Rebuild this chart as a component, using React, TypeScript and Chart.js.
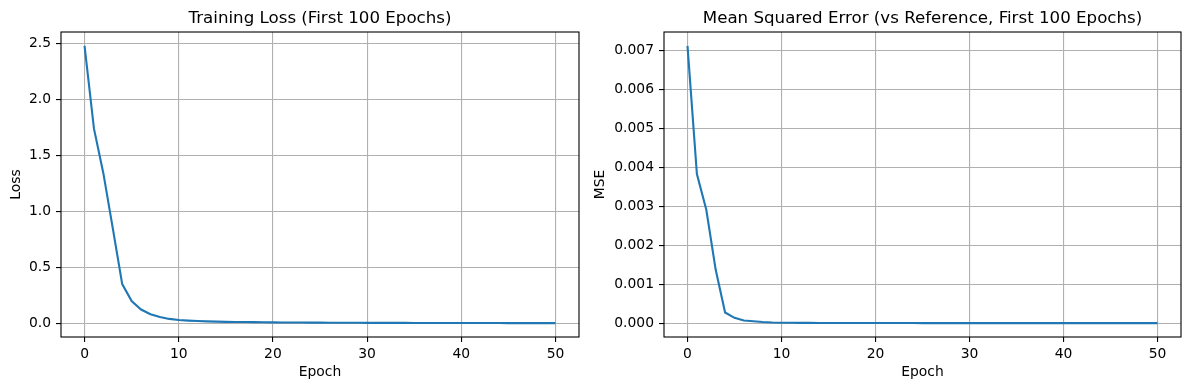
import React, { useEffect, useRef } from "react";
import { Chart, registerables } from "chart.js";

Chart.register(...registerables);

const epochs: number[] = Array.from({ length: 51 }, (_, i) => i);

const lossValues: number[] = [
  2.479, 1.74, 1.34, 0.85, 0.352, 0.2, 0.125, 0.083, 0.058, 0.041, 0.031,
  0.026, 0.022, 0.019, 0.017, 0.015, 0.014, 0.013, 0.012, 0.011, 0.010,
  0.0095, 0.009, 0.0085, 0.008, 0.0076, 0.0072, 0.0068, 0.0065, 0.0062, 0.006,
  0.0058, 0.0056, 0.0054, 0.0052, 0.005, 0.0048, 0.0047, 0.0046, 0.0044, 0.0043,
  0.0042, 0.0041, 0.004, 0.0039, 0.0038, 0.0037, 0.0036, 0.0035, 0.0034, 0.0033,
];

const mseValues: number[] = [
  0.00712, 0.00383, 0.00291, 0.00137, 0.000274, 0.000137, 0.000068, 0.00005,
  0.00003, 0.000018, 0.000012, 0.00001, 0.000008, 0.000007, 0.000006, 0.000005,
  0.000005, 0.000004, 0.000004, 0.000004, 0.000003, 0.000003, 0.000003,
  0.000003, 0.000003, 0.000002, 0.000002, 0.000002, 0.000002, 0.000002,
  0.000002, 0.000002, 0.000002, 0.000002, 0.000002, 0.000001, 0.000001,
  0.000001, 0.000001, 0.000001, 0.000001, 0.000001, 0.000001, 0.000001,
  0.000001, 0.000001, 0.000001, 0.000001, 0.000001, 0.000001, 0.000001,
];

const xTicks: number[] = [0, 10, 20, 30, 40, 50];
const lossTicks: number[] = [0, 0.5, 1.0, 1.5, 2.0, 2.5];
const mseTicks: number[] = [0, 0.001, 0.002, 0.003, 0.004, 0.005, 0.006, 0.007];

const FONT = "'DejaVu Sans', sans-serif";
const LINE_COLOR = "#1f77b4";
const GRID_COLOR = "#b0b0b0";

const framePlugin = {
  id: "frame",
  afterDatasetsDraw(chart: any) {
    const { ctx, chartArea } = chart;
    ctx.save();
    ctx.strokeStyle = "#000";
    ctx.lineWidth = 1.1;
    ctx.strokeRect(
      chartArea.left,
      chartArea.top,
      chartArea.right - chartArea.left,
      chartArea.bottom - chartArea.top
    );
    ctx.restore();
  },
};

function margins(values: number[]) {
  const lo = Math.min(...values);
  const hi = Math.max(...values);
  const r = hi - lo;
  return { min: lo - 0.05 * r, max: hi + 0.05 * r };
}

type PanelProps = {
  width: number;
  title: string;
  yLabel: string;
  values: number[];
  yTicks: number[];
  decimals: number;
  yAxisWidth: number;
  yTitlePad: number;
  padRight: number;
};

function Panel(props: PanelProps) {
  const ref = useRef<HTMLCanvasElement | null>(null);
  useEffect(() => {
    const c = ref.current;
    if (!c) return;
    const { min, max } = margins(props.values);
    const xmin = Math.min(...epochs);
    const xmax = Math.max(...epochs);
    const xr = xmax - xmin;
    const gridOpts = {
      color: GRID_COLOR,
      lineWidth: 1.1,
      drawTicks: true,
      tickLength: 5,
      tickColor: "#000",
      tickWidth: 1.1,
    };
    const chart = new Chart(c, {
      type: "line",
      data: {
        datasets: [
          {
            data: epochs.map((e, i) => ({ x: e, y: props.values[i] })),
            borderColor: LINE_COLOR,
            borderWidth: 2.1,
            pointRadius: 0,
            tension: 0,
            fill: false,
          },
        ],
      },
      plugins: [framePlugin],
      options: {
        animation: false,
        responsive: false,
        maintainAspectRatio: false,
        devicePixelRatio: 1,
        layout: { padding: { left: 0, right: props.padRight, top: 0, bottom: 0 } },
        plugins: {
          legend: { display: false },
          tooltip: { enabled: false },
          title: {
            display: true,
            text: props.title,
            fullSize: false,
            color: "#000",
            font: { family: FONT, size: 16.67, weight: "normal", lineHeight: 1.2 },
            padding: { top: 9, bottom: 3 },
          },
        },
        scales: {
          x: {
            type: "linear",
            min: xmin - 0.05 * xr,
            max: xmax + 0.05 * xr,
            afterBuildTicks: (scale: any) => {
              scale.ticks = xTicks.map((v) => ({ value: v }));
            },
            afterFit: (scale: any) => {
              scale.height = 53;
            },
            grid: gridOpts,
            border: { display: false },
            ticks: {
              color: "#000",
              padding: 4,
              maxRotation: 0,
              font: { family: FONT, size: 13.89 },
              callback: (v: any) => String(v),
            },
            title: {
              display: true,
              text: "Epoch",
              color: "#000",
              font: { family: FONT, size: 13.89, lineHeight: 1.2 },
              padding: { top: 0, bottom: 9.5 },
            },
          },
          y: {
            type: "linear",
            min,
            max,
            afterBuildTicks: (scale: any) => {
              scale.ticks = props.yTicks.map((v) => ({ value: v }));
            },
            afterFit: (scale: any) => {
              scale.width = props.yAxisWidth;
            },
            grid: gridOpts,
            border: { display: false },
            ticks: {
              color: "#000",
              padding: 5,
              font: { family: FONT, size: 13.89 },
              callback: (v: any) => Number(v).toFixed(props.decimals),
            },
            title: {
              display: true,
              text: props.yLabel,
              color: "#000",
              font: { family: FONT, size: 13.89, lineHeight: 1.2 },
              padding: { top: props.yTitlePad, bottom: 0 },
            },
          },
        },
      } as any,
    });
    return () => chart.destroy();
  }, []);
  return (
    <canvas
      ref={ref}
      width={props.width}
      height={390}
      style={{ width: props.width, height: 390, display: "block" }}
    />
  );
}

export default function App() {
  return (
    <div
      style={{
        position: "fixed",
        left: 0,
        top: 0,
        width: 1189,
        height: 390,
        background: "#fff",
      }}
    >
      <div style={{ position: "absolute", left: 0, top: 0, width: 580, height: 390 }}>
        <Panel
          width={580}
          title="Training Loss (First 100 Epochs)"
          yLabel="Loss"
          values={lossValues}
          yTicks={lossTicks}
          decimals={1}
          yAxisWidth={61}
          yTitlePad={8}
          padRight={1}
        />
      </div>
      <div style={{ position: "absolute", left: 580, top: 0, width: 609, height: 390 }}>
        <Panel
          width={609}
          title="Mean Squared Error (vs Reference, First 100 Epochs)"
          yLabel="MSE"
          values={mseValues}
          yTicks={mseTicks}
          decimals={3}
          yAxisWidth={84}
          yTitlePad={11.7}
          padRight={8}
        />
      </div>
    </div>
  );
}
